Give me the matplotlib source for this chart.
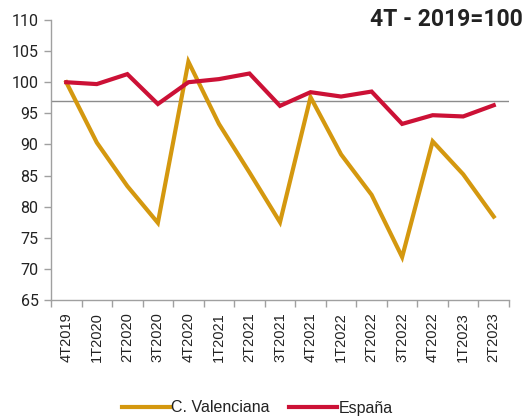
import matplotlib
matplotlib.use("Agg")
import matplotlib.pyplot as plt
from matplotlib.ticker import MultipleLocator, FixedLocator

categories = ["4T2019", "1T2020", "2T2020", "3T2020", "4T2020", "1T2021", "2T2021",
              "3T2021", "4T2021", "1T2022", "2T2022", "3T2022", "4T2022", "1T2023", "2T2023"]
valenciana = [100.0, 90.3, 83.3, 77.4, 103.3, 93.3, 85.5, 77.5, 97.6, 88.4, 81.9, 71.9, 90.5, 85.2, 78.4]
espana = [100.0, 99.7, 101.3, 96.5, 100.0, 100.5, 101.4, 96.2, 98.4, 97.7, 98.5, 93.3, 94.7, 94.5, 96.3]
ref_line = 97.0
title = "4T - 2019=100"

fig = plt.figure(figsize=(5.26, 4.17), dpi=100)
ax = fig.add_axes([51/526, 1-300/417, (509-51)/526, 280/417])

x = list(range(len(categories)))
ax.axhline(ref_line, color="#8c8c8c", lw=1.0, zorder=1)
ax.plot(x, valenciana, color="#D4980F", lw=3.0, label="C. Valenciana", zorder=3, solid_joinstyle="miter")
ax.plot(x, espana, color="#CC1136", lw=3.0, label="España", zorder=4, solid_joinstyle="miter")

ax.set_xlim(-0.5, len(categories) - 0.5)
ax.set_ylim(65, 110)
ax.yaxis.set_major_locator(MultipleLocator(5))
ax.set_xticks(x)
ax.set_xticklabels(categories, rotation=90, fontsize=10.5, family="Liberation Sans", color="#222222")
ax.xaxis.set_minor_locator(FixedLocator([i - 0.5 for i in range(len(categories) + 1)]))
ax.tick_params(axis="x", which="major", length=0, pad=9)
ax.tick_params(axis="x", which="minor", length=5, color="#a0a0a0", width=1)
ax.tick_params(axis="y", length=5, color="#a0a0a0", width=1, pad=4)
for lab in ax.get_yticklabels():
    lab.set_family("Roboto")
    lab.set_fontsize(11.5)
    lab.set_color("#222222")

for s in ["top", "right"]:
    ax.spines[s].set_visible(False)
for s in ["left", "bottom"]:
    ax.spines[s].set_color("#a0a0a0")
    ax.spines[s].set_linewidth(1)

fig.text(523/526, 1-20/417, title, ha="right", va="center", fontsize=16.5,
         fontweight="bold", family="Roboto", color="#222222")

leg = fig.legend(loc="center", bbox_to_anchor=(257/526, 1-408/417), ncol=2, frameon=False,
                 prop={"family": "Liberation Sans", "size": 11.5}, handlelength=3.0,
                 handletextpad=0.1, columnspacing=1.2)
for t in leg.get_texts():
    t.set_color("#222222")

fig.savefig("out.png", dpi=100)
